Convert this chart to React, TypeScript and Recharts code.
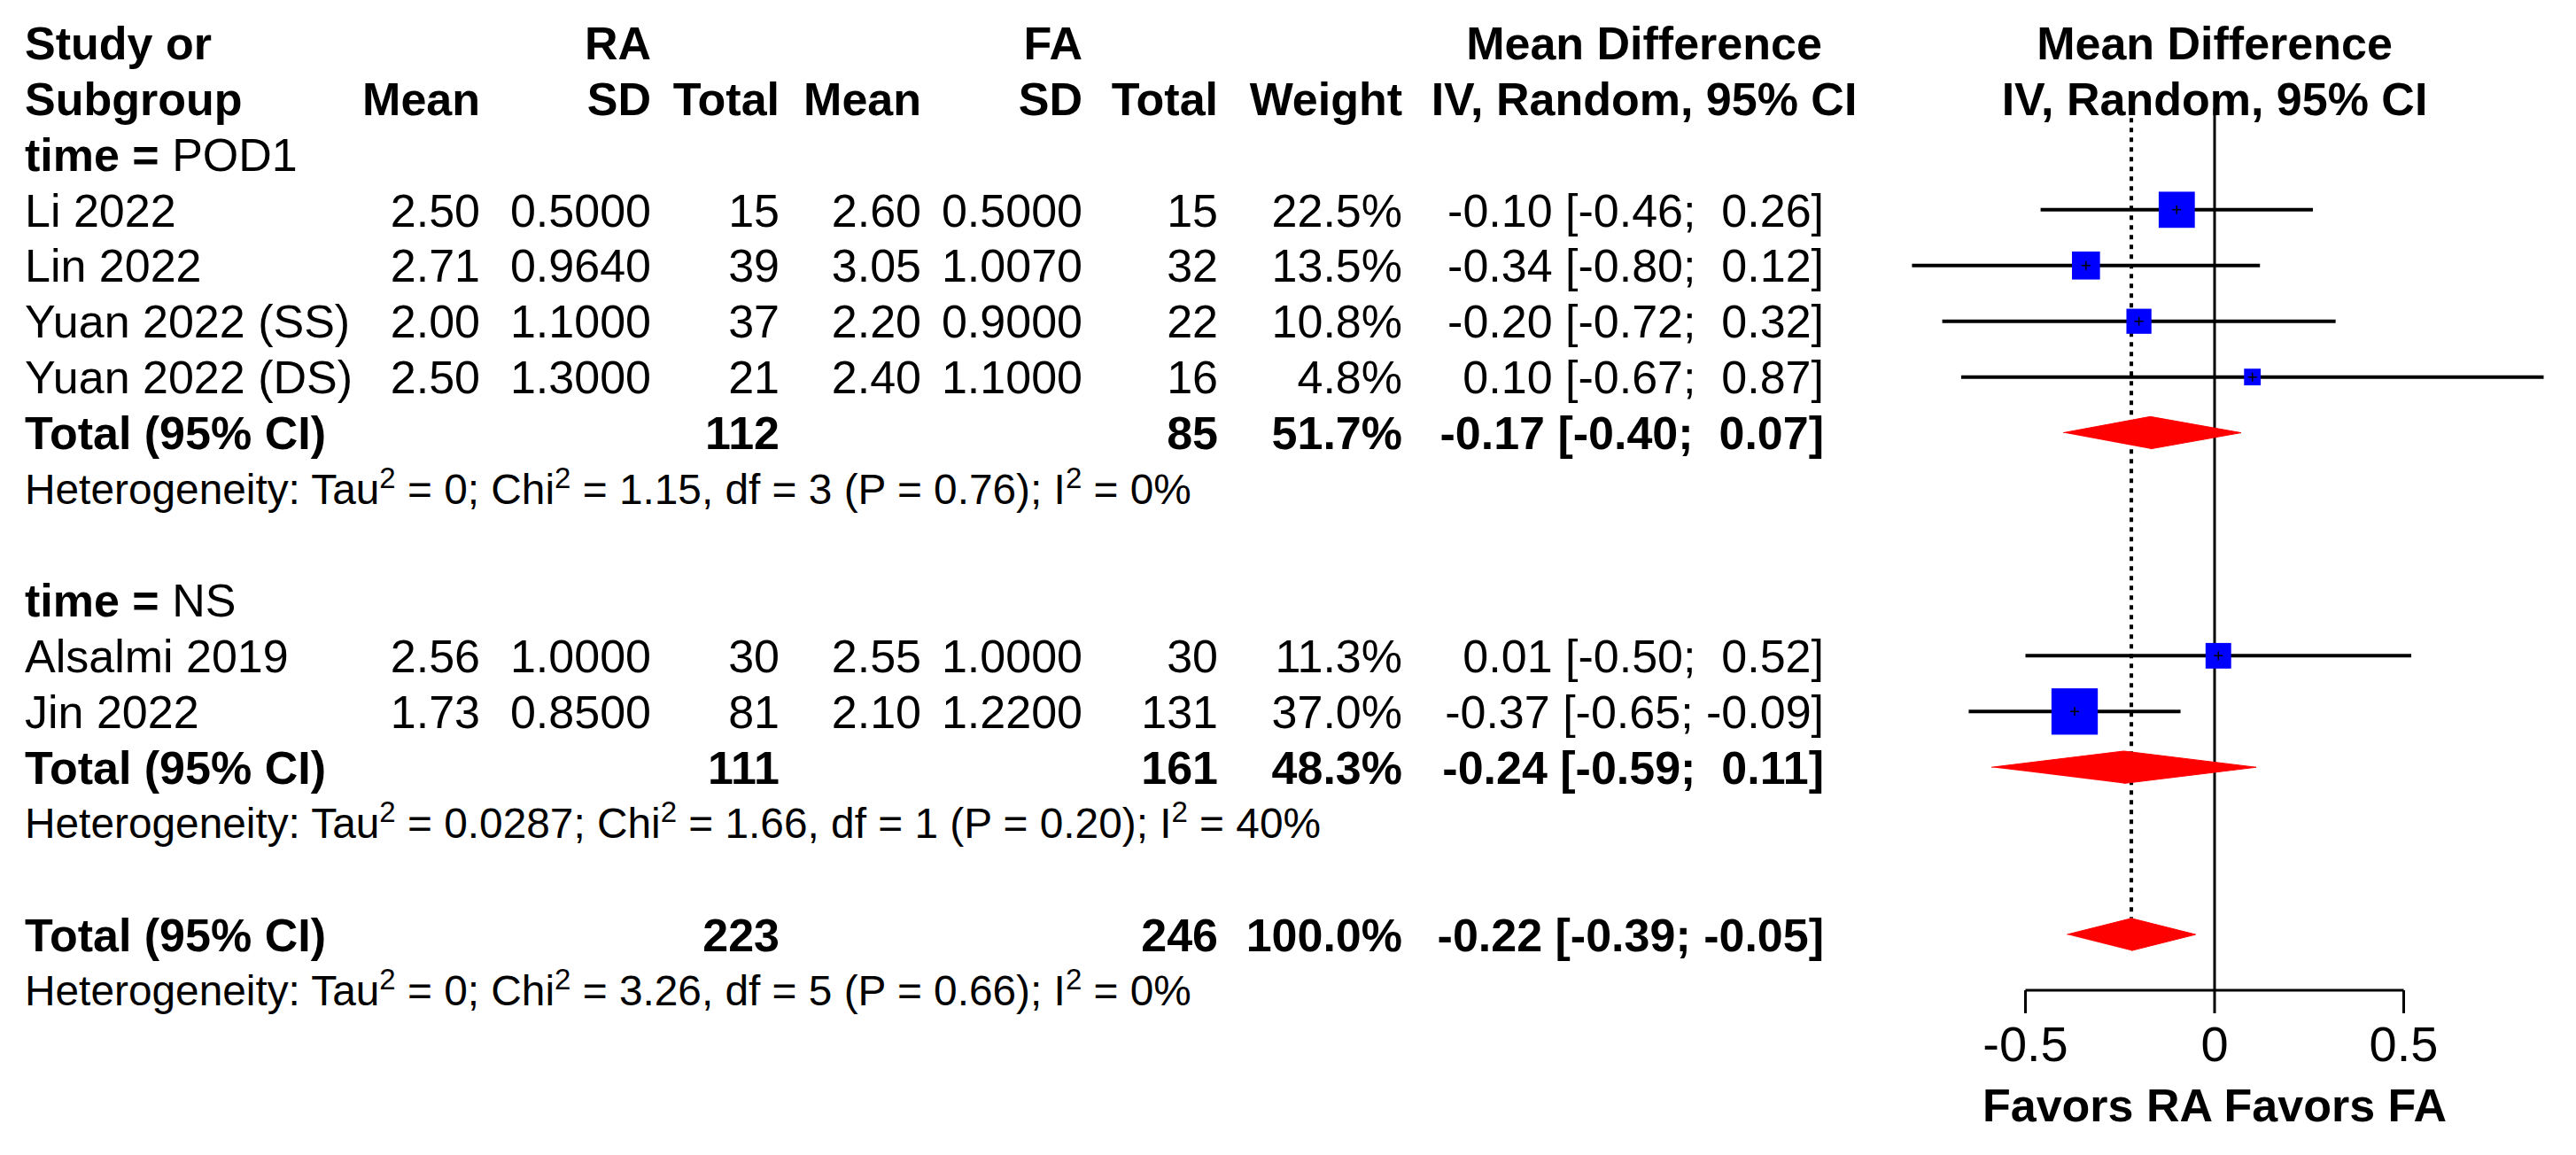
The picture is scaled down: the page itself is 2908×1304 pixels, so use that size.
import React from 'react';
import { ScatterChart, Scatter, XAxis, YAxis, ErrorBar, ReferenceLine } from 'recharts';

// ---------- data ----------
const studies = ['Li 2022', 'Lin 2022', 'Yuan 2022 (SS)', 'Yuan 2022 (DS)', 'Alsalmi 2019', 'Jin 2022'];
const studyGroup = ['POD1', 'POD1', 'POD1', 'POD1', 'NS', 'NS'];
const raMean = [2.5, 2.71, 2.0, 2.5, 2.56, 1.73];
const raSD = [0.5, 0.964, 1.1, 1.3, 1.0, 0.85];
const raN = [15, 39, 37, 21, 30, 81];
const faMean = [2.6, 3.05, 2.2, 2.4, 2.55, 2.1];
const faSD = [0.5, 1.007, 0.9, 1.1, 1.0, 1.22];
const faN = [15, 32, 22, 16, 30, 131];
const weight = [22.5, 13.5, 10.8, 4.8, 11.3, 37.0];
const md = [-0.1, -0.34, -0.2, 0.1, 0.01, -0.37];
const lower = [-0.46, -0.8, -0.72, -0.67, -0.5, -0.65];
const upper = [0.26, 0.12, 0.32, 0.87, 0.52, -0.09];

const groups = ['POD1', 'NS'];
const groupRaN = [112, 111];
const groupFaN = [85, 161];
const groupWeight = [51.7, 48.3];
const groupMd = [-0.17, -0.24];
const groupLower = [-0.4, -0.59];
const groupUpper = [0.07, 0.11];
const groupTau2 = ['0', '0.0287'];
const groupChi2 = ['1.15', '1.66'];
const groupDf = [3, 1];
const groupP = ['0.76', '0.20'];
const groupI2 = ['0%', '40%'];

const overallRaN = 223;
const overallFaN = 246;
const overallWeight = 100.0;
const overallMd = -0.22;
const overallLower = -0.39;
const overallUpper = -0.05;
const overallTau2 = '0';
const overallChi2 = '3.26';
const overallDf = 5;
const overallP = '0.66';
const overallI2 = '0%';

const xTicks = [-0.5, 0, 0.5];
const xLabel = 'Favors RA Favors FA';

// ---------- styles ----------
const FONT = '"Liberation Sans", Arial, Helvetica, sans-serif';
const FS = 52;
const HET_FS = 47.8;
const SUP_FS = 33;
const SUP_DY = 18;
const COL = {
  study: 28,
  raMean: 542,
  raSD: 735,
  raN: 880,
  faMean: 1040,
  faSD: 1222,
  faN: 1375,
  weight: 1583,
  mdText: 2059,
  mdHead: 1856,
  forestHead: 2500,
};
const SQUARE_SCALE = 8.6;
const DIAMOND_HALF = 0.29;
const BLUE = '#0000FF';
const RED = '#FF0000';

// ---------- row layout ----------
type Row =
  | { kind: 'h1' }
  | { kind: 'h2' }
  | { kind: 'group'; name: string }
  | { kind: 'study'; i: number }
  | { kind: 'total'; raN: number; faN: number; w: number; md: number; lo: number; hi: number }
  | { kind: 'het'; tau: string; chi: string; df: number; p: string; i2: string }
  | { kind: 'blank' };

const rows: Row[] = [{ kind: 'h1' }, { kind: 'h2' }];
const studyRowIndex: number[] = [];
const groupRowIndex: number[] = [];
groups.forEach((g, gi) => {
  rows.push({ kind: 'group', name: g });
  studies.forEach((_, i) => {
    if (studyGroup[i] === g) {
      studyRowIndex[i] = rows.length;
      rows.push({ kind: 'study', i });
    }
  });
  groupRowIndex[gi] = rows.length;
  rows.push({ kind: 'total', raN: groupRaN[gi], faN: groupFaN[gi], w: groupWeight[gi], md: groupMd[gi], lo: groupLower[gi], hi: groupUpper[gi] });
  rows.push({ kind: 'het', tau: groupTau2[gi], chi: groupChi2[gi], df: groupDf[gi], p: groupP[gi], i2: groupI2[gi] });
  rows.push({ kind: 'blank' });
});
const overallRowIndex = rows.length;
rows.push({ kind: 'total', raN: overallRaN, faN: overallFaN, w: overallWeight, md: overallMd, lo: overallLower, hi: overallUpper });
rows.push({ kind: 'het', tau: overallTau2, chi: overallChi2, df: overallDf, p: overallP, i2: overallI2 });

const lastRow = rows.length - 1;
const rowTicks = rows.map((_, k) => k);

const studyPoints = studies.map((_, i) => ({
  x: md[i],
  y: studyRowIndex[i],
  w: weight[i],
  err: [md[i] - lower[i], upper[i] - md[i]],
}));

const diamond = (k: number, m: number, lo: number, hi: number) => [
  { x: lo, y: k },
  { x: m, y: k - DIAMOND_HALF },
  { x: hi, y: k },
  { x: m, y: k + DIAMOND_HALF },
];
const diamonds = [
  ...groups.map((_, gi) => diamond(groupRowIndex[gi], groupMd[gi], groupLower[gi], groupUpper[gi])),
  diamond(overallRowIndex, overallMd, overallLower, overallUpper),
];

const f2 = (v: number) => v.toFixed(2);
const pad = (v: number) => (v < 0 ? f2(v) : ' ' + f2(v));
const ciText = (m: number, lo: number, hi: number) => `${pad(m)} [${pad(lo)}; ${pad(hi)}]`;

function T({ x, y, anchor = 'end', bold = false, size = FS, children }: any) {
  return (
    <text x={x} y={y} dy="0.36em" textAnchor={anchor} fontFamily={FONT} fontSize={size}
      fontWeight={bold ? 'bold' : 'normal'} fill="#000" xmlSpace="preserve" style={{ whiteSpace: 'pre' }}>
      {children}
    </text>
  );
}

function RowTick(props: any) {
  const { y, payload } = props;
  const row = rows[payload?.value];
  if (!row) return <g />;
  switch (row.kind) {
    case 'h1':
      return (
        <g>
          <T x={COL.study} y={y} anchor="start" bold>Study or</T>
          <T x={COL.raSD} y={y} bold>RA</T>
          <T x={COL.faSD} y={y} bold>FA</T>
          <T x={COL.mdHead} y={y} anchor="middle" bold>Mean Difference</T>
          <T x={COL.forestHead} y={y} anchor="middle" bold>Mean Difference</T>
        </g>
      );
    case 'h2':
      return (
        <g>
          <T x={COL.study} y={y} anchor="start" bold>Subgroup</T>
          <T x={COL.raMean} y={y} bold>Mean</T>
          <T x={COL.raSD} y={y} bold>SD</T>
          <T x={COL.raN} y={y} bold>Total</T>
          <T x={COL.faMean} y={y} bold>Mean</T>
          <T x={COL.faSD} y={y} bold>SD</T>
          <T x={COL.faN} y={y} bold>Total</T>
          <T x={COL.weight} y={y} bold>Weight</T>
          <T x={COL.mdHead} y={y} anchor="middle" bold>IV, Random, 95% CI</T>
          <T x={COL.forestHead} y={y} anchor="middle" bold>IV, Random, 95% CI</T>
        </g>
      );
    case 'group':
      return (
        <text x={COL.study} y={y} dy="0.36em" fontFamily={FONT} fontSize={FS} fill="#000" style={{ whiteSpace: 'pre' }}>
          <tspan fontWeight="bold">time = </tspan>
          <tspan>{row.name}</tspan>
        </text>
      );
    case 'study': {
      const i = row.i;
      return (
        <g>
          <T x={COL.study} y={y} anchor="start">{studies[i]}</T>
          <T x={COL.raMean} y={y}>{f2(raMean[i])}</T>
          <T x={COL.raSD} y={y}>{raSD[i].toFixed(4)}</T>
          <T x={COL.raN} y={y}>{raN[i]}</T>
          <T x={COL.faMean} y={y}>{f2(faMean[i])}</T>
          <T x={COL.faSD} y={y}>{faSD[i].toFixed(4)}</T>
          <T x={COL.faN} y={y}>{faN[i]}</T>
          <T x={COL.weight} y={y}>{`${weight[i].toFixed(1)}%`}</T>
          <T x={COL.mdText} y={y}>{ciText(md[i], lower[i], upper[i])}</T>
        </g>
      );
    }
    case 'total':
      return (
        <g>
          <T x={COL.study} y={y} anchor="start" bold>Total (95% CI)</T>
          <T x={COL.raN} y={y} bold>{row.raN}</T>
          <T x={COL.faN} y={y} bold>{row.faN}</T>
          <T x={COL.weight} y={y} bold>{`${row.w.toFixed(1)}%`}</T>
          <T x={COL.mdText} y={y} bold>{ciText(row.md, row.lo, row.hi)}</T>
        </g>
      );
    case 'het':
      return (
        <text x={COL.study} y={y} dy="0.36em" fontFamily={FONT} fontSize={HET_FS} fill="#000" style={{ whiteSpace: 'pre' }}>
          <tspan>{'Heterogeneity: Tau'}</tspan>
          <tspan dy={-SUP_DY} fontSize={SUP_FS}>2</tspan>
          <tspan dy={SUP_DY}>{` = ${row.tau}; Chi`}</tspan>
          <tspan dy={-SUP_DY} fontSize={SUP_FS}>2</tspan>
          <tspan dy={SUP_DY}>{` = ${row.chi}, df = ${row.df} (P = ${row.p}); I`}</tspan>
          <tspan dy={-SUP_DY} fontSize={SUP_FS}>2</tspan>
          <tspan dy={SUP_DY}>{` = ${row.i2}`}</tspan>
        </text>
      );
    default:
      return <g />;
  }
}

function SquareShape(props: any) {
  const { cx, cy, payload } = props;
  if (cx == null || cy == null) return <g />;
  const s = SQUARE_SCALE * Math.sqrt(payload.w);
  return (
    <g>
      <rect x={cx - s / 2} y={cy - s / 2} width={s} height={s} fill={BLUE} />
      <path d={`M${cx - 5},${cy}H${cx + 5}M${cx},${cy - 5}V${cy + 5}`} stroke="#000" strokeWidth={1.5} />
    </g>
  );
}

const NoShape = () => <g />;

export default function App() {
  const W = 2908;
  const H = 1304;
  const plotLeft = 2115.7;
  const plotRight = 2884.3;
  const yAxisWidth = 2;
  return (
    <div style={{ position: 'absolute', left: 0, top: 0, width: W, height: H, background: '#fff' }}>
      <ScatterChart
        width={W}
        height={H}
        margin={{ top: 48, right: W - plotRight, bottom: 0, left: plotLeft - yAxisWidth }}
        style={{ background: '#fff' }}
      >
        <XAxis
          type="number"
          dataKey="x"
          domain={[-0.9, 0.9]}
          allowDataOverflow
          ticks={xTicks}
          axisLine={false}
          tickLine={{ stroke: '#000', strokeWidth: 3 }}
          tickSize={26}
          tickMargin={14}
          height={H - 1118}
          tick={{ fontSize: 56, fill: '#000', fontFamily: FONT }}
          label={{
            value: xLabel,
            position: 'insideBottom',
            offset: 38,
            style: { fontSize: 52, fontWeight: 'bold', fill: '#000', fontFamily: FONT },
          }}
        />
        <YAxis
          type="number"
          dataKey="y"
          domain={[0, lastRow]}
          reversed
          allowDataOverflow
          ticks={rowTicks}
          interval={0}
          width={yAxisWidth}
          axisLine={false}
          tickLine={false}
          tick={<RowTick />}
        />
        <ReferenceLine
          segment={[{ x: overallMd, y: 1.18 }, { x: overallMd, y: overallRowIndex - DIAMOND_HALF }]}
          stroke="#000"
          strokeWidth={4}
          strokeDasharray="5 6"
          ifOverflow="visible"
        />
        <ReferenceLine
          segment={[{ x: 0, y: 1.18 }, { x: 0, y: lastRow }]}
          stroke="#000"
          strokeWidth={3}
          ifOverflow="visible"
        />
        <ReferenceLine
          segment={[{ x: xTicks[0], y: lastRow }, { x: xTicks[xTicks.length - 1], y: lastRow }]}
          stroke="#000"
          strokeWidth={3}
          ifOverflow="visible"
        />
        <Scatter data={studyPoints} shape={<SquareShape />} fill={BLUE} isAnimationActive={false}>
          <ErrorBar dataKey="err" direction="x" width={0} stroke="#000" strokeWidth={4} isAnimationActive={false} />
        </Scatter>
        {diamonds.map((d, j) => (
          <Scatter
            key={j}
            data={d}
            fill={RED}
            shape={<NoShape />}
            line={{ fill: RED, stroke: RED, strokeWidth: 1 }}
            lineJointType="linear"
            isAnimationActive={false}
          />
        ))}
      </ScatterChart>
    </div>
  );
}
